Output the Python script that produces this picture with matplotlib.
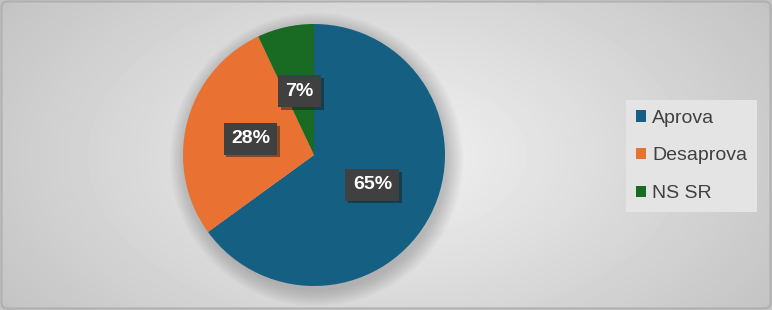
import numpy as np
import matplotlib
matplotlib.use("Agg")
import matplotlib.pyplot as plt
from matplotlib.patches import Circle, FancyBboxPatch, Patch
import matplotlib.patheffects as pe

plt.rcParams["font.family"] = ["Liberation Sans", "DejaVu Sans"]

labels = ["Aprova", "Desaprova", "NS SR"]
values = [65, 28, 7]
colors = ["#156082", "#E97132", "#196B24"]

fig = plt.figure(figsize=(7.72, 3.10), dpi=100)

# radial grey background
bg = fig.add_axes([0, 0, 1, 1])
yy, xx = np.mgrid[0:310, 0:772]
d = np.sqrt(((xx - 386) / 430.0) ** 2 + ((yy - 155) / 250.0) ** 2)
shade = np.clip(0.95 - 0.17 * d, 0.76, 0.95)
bg.imshow(shade, cmap="gray", vmin=0, vmax=1, extent=[0, 772, 310, 0], aspect="auto")
bg.add_patch(FancyBboxPatch((1.5, 1.5), 769, 307, boxstyle="round,pad=0,rounding_size=6",
                            fill=False, edgecolor="#b0b0b0", linewidth=1.5))
bg.set_xlim(0, 772)
bg.set_ylim(310, 0)
bg.axis("off")

ax = fig.add_axes([183 / 772, 24 / 310, 262 / 772, 262 / 310])

# soft shadow under the pie
for i in range(12):
    ax.add_patch(Circle((0.02, -0.035), 1.0 + 0.011 * i, color="black",
                        alpha=0.016, linewidth=0, zorder=0, clip_on=False))

wedges, _, autotexts = ax.pie(values, colors=colors, startangle=90, counterclock=False,
                              autopct="%1.0f%%", pctdistance=0.5, radius=1.0,
                              wedgeprops=dict(linewidth=0))
for w in wedges:
    w.set_zorder(2)
    w.set_clip_on(False)
for t in autotexts:
    t.set_color("white")
    t.set_fontsize(14)
    t.set_fontweight("bold")
    t.set_zorder(5)
    t.set_bbox(dict(boxstyle="square,pad=0.38", facecolor="#404040", edgecolor="none",
                    path_effects=[pe.SimplePatchShadow(offset=(2, -2), alpha=0.45), pe.Normal()]))
ax.set_xlim(-1, 1)
ax.set_ylim(-1, 1)
ax.set_aspect("equal")

handles = [Patch(facecolor=c, edgecolor="none") for c in colors]
leg = fig.legend(handles, labels, loc="center left", bbox_to_anchor=(626 / 772, 154 / 310),
                 frameon=True, fontsize=14, handlelength=0.55, handleheight=0.55,
                 handletextpad=0.3, labelspacing=1.07, borderpad=0.5, borderaxespad=0,
                 fancybox=False)
leg.get_frame().set_facecolor("#e4e4e4")
leg.get_frame().set_edgecolor("none")
leg.get_frame().set_alpha(1)
for t in leg.get_texts():
    t.set_color("#404040")

fig.savefig("out.png", dpi=100)
